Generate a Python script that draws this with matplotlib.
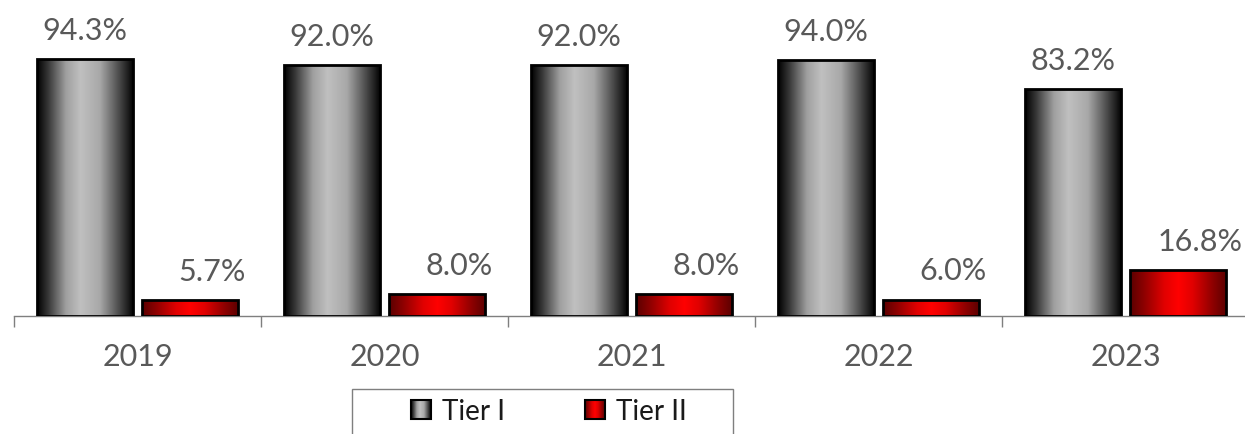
import numpy as np
import matplotlib
matplotlib.use("Agg")
import matplotlib.pyplot as plt
from matplotlib.colors import LinearSegmentedColormap
from matplotlib.patches import Rectangle
from matplotlib.legend_handler import HandlerBase

years = ["2019", "2020", "2021", "2022", "2023"]
tier1 = [94.3, 92.0, 92.0, 94.0, 83.2]
tier2 = [5.7, 8.0, 8.0, 6.0, 16.8]
series_names = ["Tier I", "Tier II"]

FONT = "Lato"
plt.rcParams["font.family"] = [FONT, "DejaVu Sans"]

gray_cmap = LinearSegmentedColormap.from_list(
    "g", [(0, "#000000"), (0.12, "#3a3a3a"), (0.3, "#a0a0a0"), (0.45, "#c0c0c0"),
          (0.65, "#a8a8a8"), (0.85, "#4a4a4a"), (1.0, "#000000")])
red_cmap = LinearSegmentedColormap.from_list(
    "r", [(0, "#5a0000"), (0.15, "#900000"), (0.35, "#e00000"), (0.5, "#ff0000"),
          (0.65, "#e00000"), (0.85, "#900000"), (1.0, "#5a0000")])

W, H = 1245, 435
fig = plt.figure(figsize=(W / 100, H / 100), dpi=100)
ax = fig.add_axes([14 / W, 118 / H, 1235 / W, 272.5 / H])

x = np.arange(len(years))
bw = 0.39
off = 0.212
grad = np.linspace(0, 1, 256).reshape(1, -1)


def gradient_bars(bars, cmap):
    for b in bars:
        b.set_facecolor("none")
        x0, y0 = b.get_x(), b.get_y()
        w, h = b.get_width(), b.get_height()
        im = ax.imshow(grad, cmap=cmap, extent=(x0, x0 + w, y0, y0 + h),
                       aspect="auto", zorder=2, interpolation="bilinear")
        im.set_clip_path(b)


b1 = ax.bar(x - off, tier1, bw, edgecolor="black", linewidth=2, zorder=3)
b2 = ax.bar(x + off, tier2, bw, edgecolor="black", linewidth=2, zorder=3)
gradient_bars(b1, gray_cmap)
gradient_bars(b2, red_cmap)

for xi, v in zip(x - off, tier1):
    ax.annotate(f"{v:.1f}%", (xi, v), xytext=(0, 11), textcoords="offset points",
                ha="center", va="bottom", fontsize=22, color="#595959")
for xi, v in zip(x + off, tier2):
    ax.annotate(f"{v:.1f}%", (xi, v), xytext=(16, 11), textcoords="offset points",
                ha="center", va="bottom", fontsize=22, color="#595959")

ax.set_xlim(-0.5, len(years) - 0.5)
ax.set_ylim(0, 100)
ax.set_xticks(x)
ax.set_xticklabels(years, fontsize=22, color="#595959")
ax.set_xticks(np.arange(len(years) + 1) - 0.5, minor=True)
ax.tick_params(axis="x", which="major", length=0, pad=19)
ax.tick_params(axis="x", which="minor", length=8, color="#7f7f7f", width=1)
ax.set_yticks([])
for s in ["left", "right", "top"]:
    ax.spines[s].set_visible(False)
ax.spines["bottom"].set_color("#7f7f7f")
ax.spines["bottom"].set_linewidth(1)
ax.patch.set_visible(False)


class GradHandler(HandlerBase):
    def __init__(self, cmap):
        super().__init__()
        self.cmap = cmap

    def create_artists(self, legend, orig_handle, xdescent, ydescent, width, height,
                       fontsize, trans):
        n = 20
        s = 14
        x0 = -xdescent + (width - s)
        y0 = -ydescent + (height - s) / 2
        arts = []
        for i in range(n):
            arts.append(Rectangle((x0 + s * i / n, y0), s / n + 0.3, s,
                                  facecolor=self.cmap((i + 0.5) / n), edgecolor="none",
                                  transform=trans))
        arts.append(Rectangle((x0, y0), s, s, facecolor="none", edgecolor="black",
                              linewidth=1.5, transform=trans))
        return arts


h1 = Rectangle((0, 0), 1, 1)
h2 = Rectangle((0, 0), 1, 1)
fig.legend([h1, h2], series_names, handler_map={h1: GradHandler(gray_cmap), h2: GradHandler(red_cmap)},
           loc="center", bbox_to_anchor=(549 / W, (H - 412) / H), ncol=2, frameon=False,
           fontsize=20, handlelength=0.7, handletextpad=0.4, columnspacing=2.9,
           labelcolor="#1a1a1a")
fig.patches.append(Rectangle((352 / W, -0.05), 381 / W, (H - 390) / H + 0.05,
                             transform=fig.transFigure, fill=False,
                             edgecolor="#7f7f7f", linewidth=1))

fig.savefig("out.png", dpi=100)
